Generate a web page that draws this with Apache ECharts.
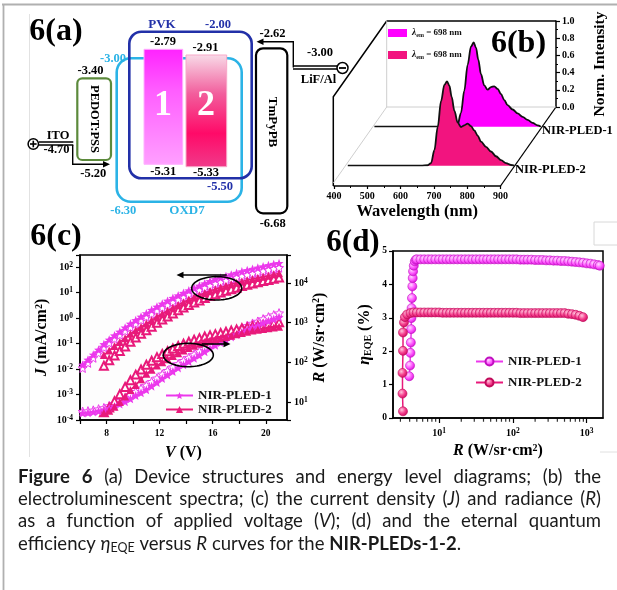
<!DOCTYPE html>
<html><head><meta charset="utf-8">
<script src="https://cdn.jsdelivr.net/npm/echarts@6/dist/echarts.min.js"></script>
<style>html,body{margin:0;padding:0;background:#fff}#c{width:617px;height:590px}</style>
</head><body><div id="c"></div>
<script>
// ---------------- DATA ----------------
// Panel (c): J-V-R
const V1 = [6.2,6.6,7.0,7.4,7.8,8.2,8.6,9.0,9.4,9.8,10.2,10.6,11.0,11.4,11.8,12.2,12.6,13.0,13.4,13.8,14.2,14.6,15.0,15.4,15.8,16.2,16.6,17.0,17.4,17.8,18.2,18.6,19.0,19.4,19.8,20.2,20.6,21.0];
const J1 = [0.0145,0.0229,0.0363,0.0562,0.0933,0.141,0.204,0.288,0.417,0.589,0.813,1.12,1.51,2.04,2.75,3.63,4.68,6.03,7.59,9.55,12.0,14.8,18.2,22.4,27.5,33.1,38.0,43.7,50.1,57.5,66.1,74.1,83.2,93.3,105,117,129,141];
const J1open = [0.011,0.0174,0.0275,0.0427,0.0708,0.107,0.155,0.219,0.309,0.437,0.603,0.832,1.12,1.48,2.0,2.57,3.31,4.27,5.37,6.76,8.32,10.2,12.6,15.5,18.6,22.4,25.7,29.5,33.9,38.9,43.7,49.0,55.0,61.7,69.2,77.6,85.1,93.3];
const R1 = [5.25,5.37,5.62,5.89,6.31,6.92,7.76,8.91,10.2,12.0,14.5,17.0,20.4,25.1,30.9,38.9,47.9,58.9,72.4,87.1,105,126,151,186,224,269,316,372,437,501,575,661,759,851,977,1096,1230,1380];
const R1open = [5.75,5.89,6.17,6.61,7.08,7.94,9.12,10.7,12.6,15.1,18.2,21.9,26.3,32.4,39.8,50.1,61.7,75.9,91.2,110,132,158,191,234,282,339,398,468,550,631,724,832,955,1072,1230,1380,1549,1738];
const V2 = [7.8,8.2,8.6,9.0,9.4,9.8,10.2,10.6,11.0,11.4,11.8,12.2,12.6,13.0,13.4,13.8,14.2,14.6,15.0,15.4,15.8,16.2,16.6,17.0,17.4,17.8,18.2,18.6,19.0,19.4,19.8,20.2,20.6,21.0];
const J2 = [0.0355,0.0537,0.0794,0.115,0.162,0.240,0.331,0.447,0.603,0.813,1.12,1.48,1.91,2.51,3.24,4.17,5.25,6.46,7.76,9.55,11.5,13.5,15.8,18.2,20.9,24.0,26.9,30.2,33.9,37.2,41.7,45.7,51.3,56.2];
const J2open = [0.0135,0.0219,0.0339,0.0513,0.0759,0.117,0.170,0.240,0.331,0.457,0.646,0.871,1.15,1.51,2.0,2.57,3.24,4.07,4.9,6.03,7.24,8.51,10.0,11.7,13.5,15.5,17.8,20.0,22.4,25.1,28.2,30.9,34.7,38.9];
const R2 = [5.25,6.03,7.59,10.0,13.8,20.0,26.9,37.2,51.3,64.6,83.2,100,120,145,170,200,229,263,295,324,355,380,407,437,468,513,550,589,631,661,692,724,759,794];
const R2open = [5.50,7.24,10.5,15.8,24.0,35.5,49.0,66.1,87.1,110,135,162,191,224,257,295,331,372,407,447,479,513,550,589,631,676,724,759,813,851,891,933,977,1023];

// Panel (d): EQE vs R
const eqeR1 = [3.95,4.05,4.1,4.15,4.2,4.22,4.25,4.3,4.35,4.4,4.45,4.55,4.7,4.85,
  5.0,5.6,6.3,7.1,7.9,8.9,10,11.2,12.6,14.1,15.8,17.8,20,22.4,25.1,28.2,31.6,35.5,39.8,44.7,50.1,56.2,63.1,70.8,79.4,89.1,100,
  112,126,141,158,178,200,224,251,282,316,355,398,447,501,562,631,708,794,891,1000,1122,1259,1413,1500];
const eqe1 = [1.25,1.57,1.95,2.26,2.66,2.99,3.29,3.59,3.94,4.19,4.39,4.56,4.69,4.74,
  4.75,4.75,4.75,4.75,4.75,4.75,4.75,4.75,4.75,4.75,4.75,4.75,4.75,4.75,4.75,4.75,4.75,4.75,4.75,4.75,4.75,4.75,4.75,4.75,4.75,4.75,4.75,
  4.75,4.74,4.74,4.74,4.74,4.73,4.73,4.73,4.72,4.72,4.71,4.71,4.70,4.70,4.69,4.68,4.67,4.66,4.65,4.63,4.62,4.60,4.58,4.56];
const eqeR2 = [3.25,3.2,3.2,3.25,3.25,3.35,3.45,3.7,4.1,
  4.5,5.0,5.6,6.3,7.1,7.9,8.9,10,11.2,12.6,14.1,15.8,17.8,20,22.4,25.1,28.2,31.6,35.5,39.8,44.7,50.1,56.2,63.1,70.8,79.4,89.1,100,
  112,126,141,158,178,200,224,251,282,316,355,398,447,501,562,631,708,794,891];
const eqe2 = [0.2,0.73,1.35,2.01,2.56,2.86,3.02,3.1,3.14,
  3.16,3.16,3.16,3.16,3.16,3.16,3.16,3.16,3.15,3.15,3.15,3.15,3.15,3.15,3.15,3.15,3.15,3.15,3.15,3.15,3.15,3.15,3.15,3.15,3.15,3.15,3.15,3.15,
  3.15,3.14,3.14,3.14,3.14,3.14,3.14,3.14,3.14,3.14,3.14,3.14,3.14,3.14,3.12,3.11,3.09,3.06,3.02];
const dMinorTicks = [3,4,5,6,7,8,9,20,30,40,50,60,70,80,90,200,300,400,500,600,700,800,900];

// Panel (b): EL spectra
const specWl = [400,450,500,550,600,620,640,650,660,670,680,690,698,705,712,720,730,740,750,760,770,780,790,800,815,830,845,860,875,890,900];
const spec1 = [0,0,0,0,0,0.001,0.004,0.025,0.16,0.42,0.72,0.93,0.98,0.92,0.78,0.61,0.48,0.43,0.46,0.47,0.44,0.38,0.31,0.25,0.20,0.155,0.115,0.08,0.045,0.015,0];
const spec2 = [0,0,0,0,0,0.001,0.005,0.03,0.18,0.45,0.75,0.94,0.98,0.93,0.80,0.64,0.50,0.45,0.47,0.49,0.46,0.41,0.35,0.28,0.22,0.165,0.11,0.065,0.03,0.008,0];

const seriesNames = ['NIR-PLED-1','NIR-PLED-2'];

// ---------------- STYLE ----------------
const SERIF = '"Liberation Serif","Times New Roman",serif';
const C1 = '#ec38ec', C2 = '#e8197a';
const FILL1 = '#ff00ff', FILL2 = '#f2147f';
const STAR = 'path://M12,0.5 L15.1,8.4 L23.5,9 L17.1,14.4 L19.1,22.7 L12,18.2 L4.9,22.7 L6.9,14.4 L0.5,9 L8.9,8.4 Z';

const chart = echarts.init(document.getElementById('c'), null, {renderer:'canvas'});

function pow10(v){
  const e = Math.log10(v), r = Math.round(e);
  if (Math.abs(e - r) > 1e-6) return '';
  return '{b|10}{s|' + r + '}';
}
const powRich = {
  b:{fontFamily:SERIF,fontWeight:'bold',fontSize:10,color:'#000',lineHeight:12},
  s:{fontFamily:SERIF,fontWeight:'bold',fontSize:7.5,color:'#000',verticalAlign:'top',lineHeight:8}
};
const nameRich = {
  i:{fontFamily:SERIF,fontWeight:'bold',fontStyle:'italic',fontSize:16,color:'#000'},
  s:{fontFamily:SERIF,fontWeight:'bold',fontSize:10,color:'#000',verticalAlign:'top',lineHeight:10},
  sub:{fontFamily:SERIF,fontWeight:'bold',fontSize:10,color:'#000',verticalAlign:'bottom',lineHeight:10}
};
const nameStyle = {fontFamily:SERIF,fontWeight:'bold',fontSize:16,color:'#000',rich:nameRich};
const axLine = {show:true,onZero:false,lineStyle:{color:'#000',width:1.5}};
const axTick = {show:true,inside:false,length:4,lineStyle:{color:'#000',width:1.2}};
const lblBase = {fontFamily:SERIF,fontWeight:'bold',fontSize:9.5,color:'#000'};

function pairs(xs, ys){ return xs.map((x,i)=>[x, ys[i]]); }

// ---------------- GRAPHIC (panel a, frames, caption) ----------------
const g = [];
function T(x,y,text,o){
  o = o || {};
  g.push({type:'text', x:x, y:y, rotation:o.rot||0, z:o.z||30, silent:true,
    style:{text:text, fill:o.color||'#000', fontFamily:o.family||SERIF, fontSize:o.size||12.5,
      fontWeight:o.weight||'bold', fontStyle:o.fstyle||'normal',
      textAlign:o.align||'center', align:o.align||'center',
      textVerticalAlign:o.valign||'middle', verticalAlign:o.valign||'middle'}});
}
function L(x1,y1,x2,y2,color,w,z){
  g.push({type:'line', silent:true, z:z||20, shape:{x1:x1,y1:y1,x2:x2,y2:y2}, style:{stroke:color||'#000', lineWidth:w||1.5}});
}
function PL(pts,color,w,z){
  g.push({type:'polyline', silent:true, z:z||20, shape:{points:pts}, style:{stroke:color||'#000', lineWidth:w||1.5, fill:null}});
}
function RR(x,y,w,h,r,stroke,fill,lw,z){
  g.push({type:'rect', silent:true, z:z||20, shape:{x:x,y:y,width:w,height:h,r:r},
    style:{stroke:stroke||null, fill:fill||null, lineWidth:lw||2}});
}
function head(x,y,dir,z){ // arrowhead tip at x,y
  const s=7, h=3.2;
  let pts;
  if (dir==='left') pts=[[x,y],[x+s,y-h],[x+s,y+h]];
  else pts=[[x,y],[x-s,y-h],[x-s,y+h]];
  g.push({type:'polygon', silent:true, z:z||21, shape:{points:pts}, style:{fill:'#000'}});
}
function ellipse(cx,cy,rx,ry){
  const pts=[]; for(let k=0;k<72;k++){const a=k/72*2*Math.PI; pts.push([cx+rx*Math.cos(a), cy+ry*Math.sin(a)]);}
  g.push({type:'polygon', silent:true, z:40, shape:{points:pts}, style:{stroke:'#000', lineWidth:1.6, fill:null}});
}

// outer page borders
L(2,4.5,617,4.5,'#b0b0b0',1.8,1);
L(3.5,4,3.5,590,'#b0b0b0',1.8,1);
L(29.5,14,29.5,457,'#e2e2e2',1,1);
RR(594,222,30,23,0,'#d8d8d8',null,1,1);
L(600,452,617,452,'#e0e0e0',1,1);

// panel labels
T(56,31.5,'6(a)',{size:32});
T(518.5,44,'6(b)',{size:32});
T(56,237,'6(c)',{size:32});
T(353,243,'6(d)',{size:31});

// ---- panel (a): energy level diagram ----
const BLUE='#2230a8', CYAN='#2bb3e6', GREEN='#5c8a3c';
RR(116.7,58.3,125,143.4,14,CYAN,null,2.6);
RR(129.3,31.7,122.4,146.6,12,BLUE,null,2.6);
g.push({type:'rect', silent:true, z:22, shape:{x:144,y:49.3,width:38.7,height:115},
  style:{fill:{type:'linear',x:0,y:0,x2:0,y2:1,colorStops:[{offset:0,color:'#ff22ff'},{offset:0.35,color:'#ff5cff'},{offset:1,color:'#ffa0ff'}]}, stroke:'#ffb0ff', lineWidth:1}});
g.push({type:'rect', silent:true, z:22, shape:{x:186,y:55,width:40.7,height:111.7},
  style:{fill:{type:'linear',x:0,y:0,x2:0,y2:1,colorStops:[{offset:0,color:'#f8dbe8'},{offset:0.35,color:'#f25d9c'},{offset:0.7,color:'#ff0a68'},{offset:1,color:'#f03a8a'}]}, stroke:'#f7a8c8', lineWidth:1}});
T(163,106,'1',{size:36,color:'#fff',z:40});
T(206,106,'2',{size:36,color:'#fff',z:40});
RR(77.3,78.3,33.7,81.7,5,GREEN,null,2.2);
T(94,119,'PEDOT:PSS',{rot:-Math.PI/2,size:12.5});
RR(256,48.3,31.3,165,7,'#000',null,2.2);
T(272,122,'TmPyPB',{rot:-Math.PI/2,size:13});

T(162,25,'PVK',{color:BLUE,size:13});
T(218,25,'-2.00',{color:BLUE});
T(272.5,34,'-2.62');
T(163,42,'-2.79');
T(205.5,48,'-2.91');
T(113,59,'-3.00',{color:CYAN});
T(90.5,71,'-3.40');
T(58,135.5,'ITO');
T(56.5,150,'-4.70');
T(93.3,174,'-5.20');
T(163.3,172,'-5.31');
T(206,173,'-5.33');
T(220,187,'-5.50',{color:BLUE});
T(123.3,211,'-6.30',{color:CYAN});
T(187,211,'OXD7',{color:CYAN,size:13});
T(272.7,224,'-6.68');
T(320,53,'-3.00');
T(318.5,80,'LiF/Al');

// ITO contact
L(39,142,73.3,142,'#000',1.4); L(39,145,73.3,145,'#000',1.4);
PL([[72.7,145],[72.7,164.3],[104,164.3]],'#000',1.4);
head(110,164.3,'right');
g.push({type:'circle', silent:true, z:25, shape:{cx:33.3,cy:144,r:5.2}, style:{fill:'#fff',stroke:'#000',lineWidth:1.5}});
L(30,144,36.6,144,'#000',1.6,26); L(33.3,140.7,33.3,147.3,'#000',1.6,26);
// LiF/Al contact
L(293,66,337,66,'#000',1.4); L(293,69,337,69,'#000',1.4);
PL([[293.3,67.5],[293.3,41.7],[262,41.7]],'#000',1.4);
head(256.5,41.7,'left');
g.push({type:'circle', silent:true, z:25, shape:{cx:342.5,cy:68,r:5.5}, style:{fill:'#fff',stroke:'#000',lineWidth:1.5}});
L(339,68,346,68,'#000',1.8,26);

// ---- panel (b) 3D frame ----
PL([[386.7,21],[333.3,96.7],[333.3,186]],'#000',1.5,1);
L(386.7,21,556,21,'#000',1.5,1);
L(556,107,500.5,186,'#000',1.3,1);
L(386.7,21,386.7,107,'#c8c8c8',0.9,1);
L(386.7,107,556,107,'#c8c8c8',0.9,1);
L(386.7,107,333.3,183,'#c8c8c8',0.9,1);
T(542,131,'NIR-PLED-1',{size:12.5,align:'left'});
T(515,170,'NIR-PLED-2',{size:12.5,align:'left'});

// ---- panel (c) decorations ----
ellipse(216.7,288.3,25,11.7);
L(226.7,275,183,275,'#000',1.6,40); head(176.5,275,'left',41);
ellipse(188.3,355,25,11.7);
L(201.7,344,224,344,'#000',1.6,40); head(230.5,344,'right',41);

// ---- caption (justified) ----
(function(){
  const FAM='Lato', SZ=18.5, SUB=12.5, LEFT=18, RIGHT=601;
  const ys=[477,499.5,521.5,544];
  const lines=[
    [['Figure 6','b'],['  (a) Device structures and energy level diagrams; (b) the','n']],
    [['electroluminescent spectra; (c) the current density (','n'],['J','i'],[') and radiance (','n'],['R','i'],[')','n']],
    [['as a function of applied voltage (','n'],['V','i'],['); (d) and the eternal quantum','n']],
    [['efficiency ','n'],['\u03b7','i'],['EQE','sub'],[' versus ','n'],['R','i'],[' curves for the ','n'],['NIR-PLEDs-1-2','b'],['.','n']]
  ];
  const ctx=document.createElement('canvas').getContext('2d');
  function fs(st){return {style:st==='i'?'italic':'normal',weight:st==='b'?'bold':'normal',size:st==='sub'?SUB:SZ};}
  function meas(t,st){const f=fs(st);ctx.font=f.style+' '+f.weight+' '+f.size+'px '+FAM;return ctx.measureText(t).width;}
  lines.forEach((segs,li)=>{
    const words=[]; let cur=[];
    segs.forEach(([t,st])=>{
      const parts=t.split(' ');
      parts.forEach((p,i)=>{
        if(i>0 && cur.length){words.push(cur);cur=[];}
        if(p.length) cur.push([p,st]);
      });
    });
    if(cur.length) words.push(cur);
    const ww=words.map(w=>w.reduce((a,[t,st])=>a+meas(t,st),0));
    const tot=ww.reduce((a,b)=>a+b,0);
    const just=li<lines.length-1;
    const gap=just?(RIGHT-LEFT-tot)/(words.length-1):meas(' ','n');
    let x=LEFT;
    words.forEach((w,wi)=>{
      w.forEach(([t,st])=>{
        const f=fs(st);
        T(x,ys[li]+(st==='sub'?4:0),t,{family:FAM,size:f.size,weight:f.weight,fstyle:f.style,align:'left',color:'#1a1a1a'});
        x+=meas(t,st);
      });
      x+=gap;
    });
  });
})();

// ---------------- OPTION ----------------
const option = {
  animation:false,
  backgroundColor:'#fff',
  grid:[
    {left:80, top:255, width:207, height:165, show:true, borderColor:'#000', borderWidth:1.5, backgroundColor:'#fdfdfd', containLabel:false, outerBoundsMode:'none'},
    {left:393, top:251, width:210, height:167, show:true, borderColor:'#000', borderWidth:1.5, containLabel:false, outerBoundsMode:'none'},
    {left:334, top:100, width:166.5, height:86, containLabel:false, outerBoundsMode:'none'},
    {left:386.7, top:21, width:169.3, height:86, containLabel:false, outerBoundsMode:'none'},
    {left:374.4, top:40.7, width:166.5, height:86, containLabel:false, outerBoundsMode:'none'},
    {left:347.8, top:79.7, width:166.5, height:86, containLabel:false, outerBoundsMode:'none'}
  ],
  xAxis:[
    {gridIndex:0, type:'value', min:6, max:21.6, interval:2, axisLine:axLine, axisTick:axTick, splitLine:{show:false},
      axisLabel:Object.assign({}, lblBase, {margin:9, showMaxLabel:false, formatter:v=>(v%4===0&&v>=8&&v<=20)?String(v):''}),
      name:'{i|V} (V)', nameLocation:'middle', nameGap:25, nameTextStyle:nameStyle},
    {gridIndex:1, type:'log', logBase:10, min:2.38, max:1660, axisLine:axLine, axisTick:Object.assign({},axTick,{length:5}), splitLine:{show:false},
      axisLabel:{formatter:pow10, rich:powRich, margin:9, showMinLabel:false, showMaxLabel:false},
      name:'{i|R} (W/sr\u00b7cm{s|2})', nameLocation:'middle', nameGap:25, nameTextStyle:nameStyle},
    {gridIndex:2, type:'value', min:400, max:900, interval:100, axisLine:axLine, axisTick:Object.assign({},axTick,{length:3}),
      minorTick:{show:true, splitNumber:2, length:2, lineStyle:{color:'#000',width:1}}, splitLine:{show:false},
      axisLabel:Object.assign({}, lblBase, {fontSize:10, margin:5}),
      name:'Wavelength (nm)', nameLocation:'middle', nameGap:17, nameTextStyle:{fontFamily:SERIF,fontWeight:'bold',fontSize:16.5,color:'#000'}},
    {gridIndex:3, type:'value', show:false, min:0, max:1},
    {gridIndex:4, type:'value', show:false, min:400, max:900},
    {gridIndex:5, type:'value', show:false, min:400, max:900}
  ],
  yAxis:[
    {gridIndex:0, type:'log', logBase:10, min:1e-4, max:295, position:'left', axisLine:axLine, axisTick:axTick, splitLine:{show:false},
      axisLabel:{formatter:pow10, rich:powRich, margin:7},
      name:'{i|J} (mA/cm{s|2})', nameLocation:'middle', nameGap:30, nameRotate:90, nameTextStyle:nameStyle},
    {gridIndex:0, type:'log', logBase:10, min:3.52, max:50700, position:'right', axisLine:axLine, axisTick:axTick, splitLine:{show:false},
      axisLabel:{formatter:pow10, rich:powRich, margin:7},
      name:'{i|R} (W/sr\u00b7cm{s|2})', nameLocation:'middle', nameGap:22, nameRotate:90, nameTextStyle:nameStyle},
    {gridIndex:1, type:'value', min:0, max:5, interval:1, axisLine:axLine, axisTick:axTick, splitLine:{show:false},
      axisLabel:Object.assign({}, lblBase, {margin:6}),
      name:'{i|\u03b7}{sub|EQE} (%)', nameLocation:'middle', nameGap:20, nameRotate:90, nameTextStyle:nameStyle},
    {gridIndex:2, type:'value', show:false, min:0, max:1},
    {gridIndex:3, type:'value', min:0, max:1, interval:0.2, position:'right', axisLine:axLine, axisTick:axTick,
      minorTick:{show:true, splitNumber:2, length:2, lineStyle:{color:'#000',width:1}}, splitLine:{show:false},
      axisLabel:Object.assign({}, lblBase, {fontSize:10, margin:6, formatter:v=>v.toFixed(1)}),
      name:'Norm. Intensity', nameLocation:'middle', nameGap:36, nameRotate:90, nameTextStyle:{fontFamily:SERIF,fontWeight:'bold',fontSize:15.5,color:'#000'}},
    {gridIndex:4, type:'value', show:false, min:0, max:1},
    {gridIndex:5, type:'value', show:false, min:0, max:1}
  ],
  legend:[
    {left:165, top:389, orient:'vertical', padding:0, itemWidth:27, itemHeight:9, itemGap:1, selectedMode:false,
      data:[seriesNames[0], seriesNames[1]],
      textStyle:{fontFamily:SERIF,fontWeight:'bold',fontSize:13,color:'#111'}},
    {left:475, top:355, orient:'vertical', padding:0, itemWidth:27, itemHeight:10, itemGap:8, selectedMode:false,
      data:[seriesNames[0]+' ', seriesNames[1]+' '],
      textStyle:{fontFamily:SERIF,fontWeight:'bold',fontSize:13,color:'#111'}},
    {left:388, top:28, orient:'vertical', padding:0, itemWidth:19, itemHeight:8, itemGap:12, selectedMode:false,
      data:[{name:'spec1', icon:'rect', itemStyle:{color:FILL1, borderWidth:0}},{name:'spec2', icon:'rect', itemStyle:{color:FILL2, borderWidth:0}}],
      formatter:()=> '{i|\u03bb}{s|em} = 698 nm',
      textStyle:{fontFamily:SERIF,fontWeight:'bold',fontSize:9,color:'#111',
        rich:{i:{fontFamily:SERIF,fontStyle:'italic',fontWeight:'bold',fontSize:9.5,color:'#111'},
              s:{fontFamily:SERIF,fontWeight:'bold',fontSize:6,color:'#111',verticalAlign:'bottom',lineHeight:6}}}}
  ],
  series:[
    // panel (b)
    {type:'line', name:'spec1', xAxisIndex:4, yAxisIndex:5, data:pairs(specWl,spec1), symbol:'none', smooth:0.35, smoothMonotone:'x',
      lineStyle:{color:'#111',width:1.8}, itemStyle:{color:FILL1}, areaStyle:{color:FILL1,opacity:1}, z:2},
    {type:'line', name:'spec2', xAxisIndex:5, yAxisIndex:6, data:pairs(specWl,spec2), symbol:'none', smooth:0.35, smoothMonotone:'x',
      lineStyle:{color:'#111',width:1.8}, itemStyle:{color:FILL2}, areaStyle:{color:FILL2,opacity:1}, z:3},
    // panel (c)
    {type:'line', name:'J1o', xAxisIndex:0, yAxisIndex:0, data:pairs(V1,J1open), symbol:STAR, symbolSize:9, showAllSymbol:true,
      lineStyle:{color:C1,width:0.8}, itemStyle:{color:'#fff',borderColor:C1,borderWidth:1}, z:3},
    {type:'line', name:seriesNames[0], xAxisIndex:0, yAxisIndex:0, data:pairs(V1,J1), symbol:STAR, symbolSize:9, showAllSymbol:true,
      lineStyle:{color:C1,width:1.5}, itemStyle:{color:C1}, z:4},
    {type:'line', name:'R1o', xAxisIndex:0, yAxisIndex:1, data:pairs(V1,R1open), symbol:STAR, symbolSize:9, showAllSymbol:true,
      lineStyle:{color:C1,width:0.8}, itemStyle:{color:'#fff',borderColor:C1,borderWidth:1}, z:3},
    {type:'line', name:'R1', xAxisIndex:0, yAxisIndex:1, data:pairs(V1,R1), symbol:STAR, symbolSize:9, showAllSymbol:true,
      lineStyle:{color:C1,width:1.5}, itemStyle:{color:C1}, z:4},
    {type:'line', name:'J2o', xAxisIndex:0, yAxisIndex:0, data:pairs(V2,J2open), symbol:'emptyTriangle', symbolSize:8, showAllSymbol:true,
      lineStyle:{color:C2,width:0.8}, itemStyle:{color:C2,borderWidth:1}, z:3},
    {type:'line', name:seriesNames[1], xAxisIndex:0, yAxisIndex:0, data:pairs(V2,J2), symbol:'triangle', symbolSize:8, showAllSymbol:true,
      lineStyle:{color:C2,width:1.5}, itemStyle:{color:C2}, z:4},
    {type:'line', name:'R2o', xAxisIndex:0, yAxisIndex:1, data:pairs(V2,R2open), symbol:'emptyTriangle', symbolSize:8, showAllSymbol:true,
      lineStyle:{color:C2,width:0.8}, itemStyle:{color:C2,borderWidth:1}, z:3},
    {type:'line', name:'R2', xAxisIndex:0, yAxisIndex:1, data:pairs(V2,R2), symbol:'triangle', symbolSize:8, showAllSymbol:true,
      lineStyle:{color:C2,width:1.5}, itemStyle:{color:C2}, z:4},
    // panel (d)
    {type:'line', name:seriesNames[0]+' ', xAxisIndex:1, yAxisIndex:2, data:pairs(eqeR1,eqe1), symbol:'circle', symbolSize:9, showAllSymbol:true,
      lineStyle:{color:C1,width:1.5},
      itemStyle:{color:{type:'radial',x:0.38,y:0.35,r:0.65,colorStops:[{offset:0,color:'#ffd9ff'},{offset:0.55,color:'#ff5cff'},{offset:1,color:'#d814d8'}]}, borderColor:'#c010c0', borderWidth:0.6}, z:4},
    {type:'line', name:seriesNames[1]+' ', xAxisIndex:1, yAxisIndex:2, data:pairs(eqeR2,eqe2), symbol:'circle', symbolSize:9, showAllSymbol:true,
      lineStyle:{color:C2,width:1.5},
      itemStyle:{color:{type:'radial',x:0.38,y:0.35,r:0.65,colorStops:[{offset:0,color:'#ffc4dc'},{offset:0.55,color:'#f5428f'},{offset:1,color:'#d00c62'}]}, borderColor:'#c00a5a', borderWidth:0.6}, z:4},
    {type:'scatter', name:'minorTicks', xAxisIndex:1, yAxisIndex:2, data:dMinorTicks.map(r=>[r,0]), symbol:'rect', symbolSize:[1.2,3.5], symbolOffset:[0,2],
      itemStyle:{color:'#000'}, silent:true, clip:false, z:6}
  ],
  graphic:{elements:g}
};
chart.setOption(option);
</script></body></html>
